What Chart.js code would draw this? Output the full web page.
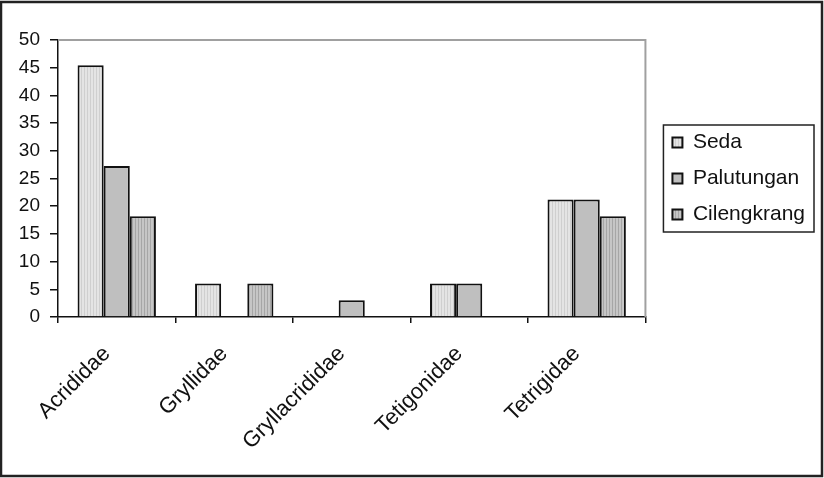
<!doctype html>
<html lang="en">
<head>
<meta charset="utf-8">
<script src="https://cdn.jsdelivr.net/npm/chart.js"></script>
<title>Orthoptera families</title>
<style>
  html, body { margin: 0; padding: 0; background: #fff; }
  canvas { display: block; }
</style>
</head>
<body>
<canvas id="myChart" width="824" height="478"></canvas>
<script>
// data
var families = ['Acrididae', 'Gryllidae', 'Gryllacrididae', 'Tetigonidae', 'Tetrigidae'];
var seda = [45.45, 6.06, 0, 6.06, 21.21];
var palutungan = [27.27, 0, 3.03, 6.06, 21.21];
var cilengkrang = [18.18, 6.06, 0, 0, 18.18];
var yTicks = [0, 5, 10, 15, 20, 25, 30, 35, 40, 45, 50];

// little striped fills like the old office charts
function makePattern(base, stripe) {
  var c = document.createElement('canvas');
  c.width = 3; c.height = 3;
  var g = c.getContext('2d');
  g.fillStyle = base;
  g.fillRect(0, 0, 3, 3);
  if (stripe) {
    g.fillStyle = stripe;
    g.fillRect(0, 0, 1, 3);
  }
  return g.createPattern(c, 'repeat');
}
var ctx0 = document.getElementById('myChart').getContext('2d');
var fillSeda = makePattern('#e4e4e4', '#cfcfcf');
var fillPalu = makePattern('#bfbfbf', null);
var fillCilk = makePattern('#c6c6c6', '#a6a6a6');

var txtFont = 'Liberation Sans, Arial, sans-serif';

var frame = {
  id: 'frame',
  afterLayout: function(chart) {
    // legend sits a bit away from the plot and centred on it
    var lg = chart.legend, a = chart.chartArea;
    lg.left += 12; lg.right += 12;
    lg.top = a.top; lg.bottom = a.bottom; lg.height = a.bottom - a.top;
  },
  afterDraw: function(chart) {
    var c = chart.ctx, a = chart.chartArea;
    c.save();
    // grey plot border top/right
    c.strokeStyle = '#a0a0a0';
    c.lineWidth = 2;
    c.beginPath();
    c.moveTo(a.left, a.top);
    c.lineTo(a.right, a.top);
    c.lineTo(a.right, a.bottom);
    c.stroke();
    // legend box
    var hb = chart.legend.legendHitBoxes;
    if (hb && hb.length) {
      var l = Math.min.apply(null, hb.map(function(h){return h.left;}));
      var r = Math.max.apply(null, hb.map(function(h){return h.left + h.width;}));
      var t = Math.min.apply(null, hb.map(function(h){return h.top;}));
      var b = Math.max.apply(null, hb.map(function(h){return h.top + h.height;}));
      c.strokeStyle = '#222';
      c.lineWidth = 1.5;
      c.strokeRect(l - 9, t - 7, r - l + 18, b - t + 14);
    }
    // outer frame
    c.strokeStyle = '#222';
    c.lineWidth = 2.5;
    c.strokeRect(1, 2, chart.width - 3, chart.height - 4);
    c.restore();
  }
};

var myChart = new Chart(ctx0, {
  type: 'bar',
  data: {
    labels: families,
    datasets: [
      { label: 'Seda', data: seda, backgroundColor: fillSeda, borderColor: '#111', borderWidth: 2 },
      { label: 'Palutungan', data: palutungan, backgroundColor: fillPalu, borderColor: '#111', borderWidth: 2 },
      { label: 'Cilengkrang', data: cilengkrang, backgroundColor: fillCilk, borderColor: '#111', borderWidth: 2 }
    ]
  },
  options: {
    responsive: false,
    animation: false,
    devicePixelRatio: 1,
    layout: { padding: { top: 40, right: 21, left: 0, bottom: 0 } },
    datasets: { bar: { categoryPercentage: 0.667, barPercentage: 1 } },
    scales: {
      y: {
        min: 0,
        max: 50,
        afterBuildTicks: function(s) { s.ticks = yTicks.map(function(v){ return { value: v }; }); },
        afterFit: function(s) { s.width = 58; },
        border: { color: '#111', width: 1.5 },
        grid: { drawOnChartArea: false, drawTicks: true, tickLength: 8, color: '#111', lineWidth: 1.5 },
        ticks: { color: '#111', padding: 10, font: { family: txtFont, size: 19 } }
      },
      x: {
        afterFit: function(s) { s.height = 161; },
        border: { color: '#111', width: 1.5 },
        grid: { offset: true, drawOnChartArea: false, drawTicks: true, tickLength: 6, color: '#111', lineWidth: 1.5 },
        ticks: {
          color: '#111', padding: 18, labelOffset: -10, minRotation: 45, maxRotation: 45,
          font: { family: txtFont, size: 22 }
        }
      }
    },
    plugins: {
      legend: {
        position: 'right',
        labels: {
          color: '#111',
          boxWidth: 10, boxHeight: 10, padding: 15,
          font: { family: txtFont, size: 21 }
        }
      },
      tooltip: { enabled: false }
    }
  },
  plugins: [frame]
});
</script>
</body>
</html>
